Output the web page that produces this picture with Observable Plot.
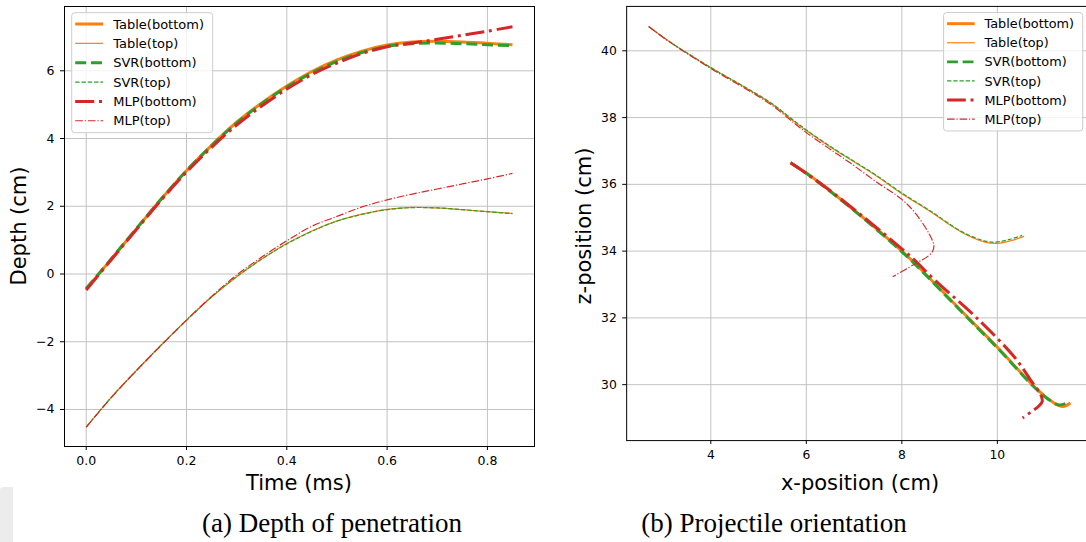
<!DOCTYPE html>
<html><head><meta charset="utf-8">
<script src="https://cdn.jsdelivr.net/npm/d3@7"></script>
<script src="https://cdn.jsdelivr.net/npm/@observablehq/plot@0.6"></script>
<style>
html,body{margin:0;padding:0;background:#fff;overflow:hidden;width:1086px;height:542px;}
#wrap{position:relative;width:1086px;height:542px;overflow:hidden;background:#fff;}
#left,#right{position:absolute;top:0;}
#left{left:0px}
#right{left:563px}
#overlay{position:absolute;left:0;top:0;pointer-events:none;}
</style></head><body>
<div id="wrap"><div id="left"></div><div id="right"></div><svg id="overlay" width="1086" height="542"></svg></div>
<script>
// ---------- Data ----------
const seriesNames = ["Table(bottom)", "Table(top)", "SVR(bottom)", "SVR(top)", "MLP(bottom)", "MLP(top)"];

// (a) Depth of penetration: time (ms) vs depth (cm)
const timeMs = [0, 0.05, 0.10, 0.15, 0.20, 0.25, 0.30, 0.35, 0.40, 0.45, 0.50, 0.55, 0.60, 0.65, 0.70, 0.75, 0.80, 0.85];
const depthTableBottom = [-0.45, 0.44, 1.33, 2.22, 3.05, 3.80, 4.48, 5.05, 5.55, 5.98, 6.32, 6.58, 6.76, 6.85, 6.87, 6.85, 6.81, 6.77];
const depthTableTop    = [-4.52, -3.64, -2.85, -2.09, -1.36, -0.68, -0.08, 0.44, 0.90, 1.27, 1.57, 1.77, 1.91, 1.97, 1.95, 1.90, 1.84, 1.79];
const depthSvrBottom   = [-0.43, 0.45, 1.34, 2.22, 3.05, 3.79, 4.46, 5.03, 5.52, 5.94, 6.28, 6.54, 6.72, 6.80, 6.82, 6.80, 6.77, 6.74];
const depthSvrTop      = [-4.52, -3.64, -2.86, -2.09, -1.37, -0.68, -0.08, 0.44, 0.89, 1.26, 1.56, 1.76, 1.90, 1.96, 1.95, 1.90, 1.84, 1.78];
const depthMlpBottom   = [-0.47, 0.42, 1.31, 2.19, 3.01, 3.74, 4.40, 4.96, 5.46, 5.89, 6.23, 6.51, 6.71, 6.82, 6.93, 7.05, 7.17, 7.30];
const depthMlpTop      = [-4.52, -3.65, -2.85, -2.10, -1.36, -0.66, -0.03, 0.50, 0.98, 1.41, 1.70, 1.98, 2.19, 2.36, 2.51, 2.66, 2.81, 2.97];

// (b) Projectile orientation: x-position (cm) vs z-position (cm)
const xTableTop = [2.70, 3.09, 4.00, 4.78, 5.26, 5.74, 6.00, 6.50, 6.98, 7.46, 8.00, 8.57, 9.26, 9.74, 9.97, 10.25, 10.56];
const zTableTop = [40.73, 40.32, 39.49, 38.85, 38.43, 37.89, 37.61, 37.12, 36.69, 36.26, 35.72, 35.21, 34.56, 34.27, 34.23, 34.30, 34.44];
const xSvrTop   = [2.70, 3.09, 4.00, 4.78, 5.26, 5.74, 6.00, 6.50, 6.98, 7.46, 8.00, 8.57, 9.26, 9.74, 9.97, 10.25, 10.52];
const zSvrTop   = [40.73, 40.32, 39.50, 38.86, 38.44, 37.91, 37.63, 37.14, 36.71, 36.28, 35.74, 35.23, 34.58, 34.30, 34.27, 34.35, 34.47];
const xMlpTop   = [2.70, 3.09, 4.00, 4.78, 5.26, 5.74, 6.00, 6.45, 6.90, 7.46, 8.00, 8.29, 8.57, 8.67, 8.64, 8.55, 8.29, 7.81];
const zMlpTop   = [40.73, 40.31, 39.47, 38.82, 38.39, 37.84, 37.55, 37.10, 36.66, 36.08, 35.55, 35.12, 34.52, 34.17, 33.98, 33.85, 33.63, 33.23];

const xTableBottom = [5.67, 6.00, 6.50, 7.19, 8.00, 8.26, 9.39, 10.00, 10.77, 11.05, 11.29, 11.40, 11.53];
const zTableBottom = [36.65, 36.34, 35.80, 35.00, 34.00, 33.65, 32.00, 31.12, 29.94, 29.59, 29.37, 29.35, 29.45];
const xSvrBottom   = [5.67, 6.00, 6.50, 7.19, 8.00, 8.26, 9.39, 10.00, 10.77, 11.05, 11.29, 11.48];
const zSvrBottom   = [36.65, 36.33, 35.79, 34.99, 33.98, 33.63, 31.98, 31.10, 29.93, 29.58, 29.39, 29.46];
const xMlpBottom   = [5.67, 6.00, 6.50, 7.19, 8.00, 8.26, 8.70, 9.53, 10.36, 10.70, 10.91, 10.94, 10.87, 10.70, 10.53];
const zMlpBottom   = [36.65, 36.33, 35.81, 35.03, 34.07, 33.74, 33.12, 32.05, 30.82, 30.13, 29.69, 29.50, 29.36, 29.18, 29.00];

// Axis ticks
const ticksTime = [0, 0.2, 0.4, 0.6, 0.8];
const ticksDepth = [-4, -2, 0, 2, 4, 6];
const ticksXPos = [4, 6, 8, 10];
const ticksZPos = [30, 32, 34, 36, 38, 40];

// ---------- Styles ----------
const seriesColors = ["#ff7f0e", "#ff7f0e", "#2ca02c", "#2ca02c", "#d62728", "#d62728"];
const seriesWidths = [3, 1.2, 3, 1.2, 3, 1.2];
const seriesDashes = [null, null, "11,4.8", "4.4,1.9", "19,4.8,3,4.8", "7.7,1.9,1.2,1.9"];
const FONT = "DejaVu Sans";
const GRID = "#c2c2c2";

const depthSeries = [depthTableBottom, depthTableTop, depthSvrBottom, depthSvrTop, depthMlpBottom, depthMlpTop]
  .map(vals => vals.map((v, i) => ({x: timeMs[i], y: v})));
const posSeries = [
  [xTableBottom, zTableBottom], [xTableTop, zTableTop],
  [xSvrBottom, zSvrBottom], [xSvrTop, zSvrTop],
  [xMlpBottom, zMlpBottom], [xMlpTop, zMlpTop]
].map(([xs, zs]) => xs.map((v, i) => ({x: v, y: zs[i]})));

function lineMarks(series, curve) {
  return series.map((rows, i) => Plot.line(rows, {
    x: "x", y: "y", curve,
    stroke: seriesColors[i], strokeWidth: seriesWidths[i],
    strokeDasharray: seriesDashes[i] || undefined,
    strokeLinecap: "butt", strokeLinejoin: "round"
  }));
}

function addLegend(svg, x0, y0) {
  const g = d3.select(svg).append("g").attr("text-anchor", "start");
  g.append("rect").attr("x", x0).attr("y", y0).attr("width", 141).attr("height", 120)
    .attr("rx", 3).attr("fill", "#fff").attr("fill-opacity", 0.8)
    .attr("stroke", "#cccccc").attr("stroke-width", 1);
  seriesNames.forEach((name, i) => {
    const yy = y0 + 11.3 + i * 19.35;
    g.append("line").attr("x1", x0 + 3.5).attr("x2", x0 + 31.5).attr("y1", yy).attr("y2", yy)
      .attr("stroke", seriesColors[i]).attr("stroke-width", seriesWidths[i])
      .attr("stroke-dasharray", seriesDashes[i] || null);
    g.append("text").attr("x", x0 + 41.5).attr("y", yy).attr("dy", "0.36em")
      .attr("text-anchor", "start")
      .attr("font-family", FONT).attr("font-size", 13).attr("fill", "#000").text(name);
  });
}

function commonAxes(xt, yt, xfmt) {
  return [
    Plot.axisX({ticks: xt, tickFormat: xfmt, tickSize: 4, tickPadding: 6, label: null, fontSize: 12.5}),
    Plot.axisY({ticks: yt, tickSize: 4, tickPadding: 6, label: null, fontSize: 12.5})
  ];
}

// ---------- Panel (a) ----------
const left = Plot.plot({
  width: 560, height: 470,
  marginLeft: 64, marginRight: 26, marginTop: 6, marginBottom: 24,
  x: {domain: [-0.0433, 0.8939]},
  y: {domain: [-5.093, 7.898]},
  style: {fontFamily: FONT, color: "#000", background: "transparent", overflow: "visible"},
  marks: [
    Plot.gridX(ticksTime, {stroke: GRID, strokeOpacity: 1, strokeWidth: 1}),
    Plot.gridY(ticksDepth, {stroke: GRID, strokeOpacity: 1, strokeWidth: 1}),
    ...lineMarks(depthSeries, "catmull-rom"),
    Plot.frame({stroke: "#000", strokeWidth: 1}),
    ...commonAxes(ticksTime, ticksDepth, d3.format(".1f"))
  ]
});
document.getElementById("left").appendChild(left);
addLegend(left, 71.7, 12.7);

// ---------- Panel (b) ----------
const right = Plot.plot({
  width: 530, height: 470,
  marginLeft: 64, marginRight: 0, marginTop: 6, marginBottom: 24,
  x: {domain: [2.238, 11.866]},
  y: {domain: [28.324, 41.33]},
  style: {fontFamily: FONT, color: "#000", background: "transparent", overflow: "visible"},
  marks: [
    Plot.gridX(ticksXPos, {stroke: GRID, strokeOpacity: 1, strokeWidth: 1}),
    Plot.gridY(ticksZPos, {stroke: GRID, strokeOpacity: 1, strokeWidth: 1}),
    ...lineMarks(posSeries, "catmull-rom"),
    Plot.frame({stroke: "#000", strokeWidth: 1}),
    ...commonAxes(ticksXPos, ticksZPos, d3.format("d"))
  ]
});
document.getElementById("right").appendChild(right);
addLegend(right, 385.7, 12.7);

// ---------- Labels and captions ----------
const ov = d3.select("#overlay");
ov.append("path").attr("d", "M0,490 Q0,487 4,487 L13,487 L13,542 L0,542 Z").attr("fill", "#ececec");
const labels = [
  {t: "Depth (cm)", x: 26, y: 226, r: -90, fs: 21, f: FONT},
  {t: "Time (ms)", x: 299, y: 490, r: 0, fs: 21, f: FONT},
  {t: "z-position (cm)", x: 591, y: 226, r: -90, fs: 21, f: FONT},
  {t: "x-position (cm)", x: 860, y: 490, r: 0, fs: 21, f: FONT},
  {t: "(a) Depth of penetration", x: 332, y: 532, r: 0, fs: 27, f: "Liberation Serif"},
  {t: "(b) Projectile orientation", x: 774, y: 532, r: 0, fs: 27, f: "Liberation Serif"}
];
labels.forEach(l => {
  ov.append("text").attr("transform", `translate(${l.x},${l.y}) rotate(${l.r})`)
    .attr("text-anchor", "middle").attr("font-family", l.f).attr("font-size", l.fs)
    .attr("fill", "#000").text(l.t);
});
</script>
</body></html>
